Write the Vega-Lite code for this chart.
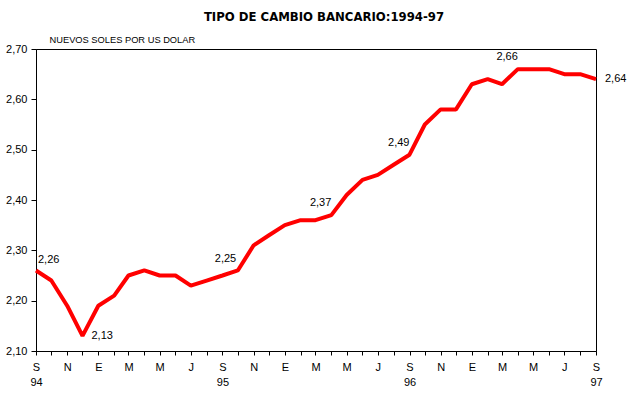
{
  "$schema": "https://vega.github.io/schema/vega-lite/v6.json",
  "width": 560,
  "height": 302,
  "autosize": {"type": "none"},
  "padding": {"left": 36, "top": 49, "right": 46, "bottom": 46},
  "background": "white",
  "title": {
    "text": "TIPO DE CAMBIO BANCARIO:1994-97",
    "font": "Liberation Sans Narrow, DejaVu Sans Condensed, Liberation Sans",
    "fontSize": 13,
    "fontWeight": "bold",
    "color": "black",
    "anchor": "middle",
    "frame": "group",
    "dx": 8,
    "offset": 11
  },
  "config": {
    "locale": {"number": {"decimal": ",", "thousands": ".", "grouping": [3], "currency": ["", ""]}},
    "view": {"stroke": "black", "strokeWidth": 1},
    "font": "Liberation Sans",
    "axis": {"grid": false, "domainColor": "black", "tickColor": "black", "labelColor": "black", "labelFont": "Liberation Sans", "labelFontSize": 11}
  },
  "data": {
    "values": [
      {"date": "1994-09-01", "tc": 2.26},
      {"date": "1994-10-01", "tc": 2.24},
      {"date": "1994-11-01", "tc": 2.19},
      {"date": "1994-12-01", "tc": 2.13},
      {"date": "1995-01-01", "tc": 2.19},
      {"date": "1995-02-01", "tc": 2.21},
      {"date": "1995-03-01", "tc": 2.25},
      {"date": "1995-04-01", "tc": 2.26},
      {"date": "1995-05-01", "tc": 2.25},
      {"date": "1995-06-01", "tc": 2.25},
      {"date": "1995-07-01", "tc": 2.23},
      {"date": "1995-08-01", "tc": 2.24},
      {"date": "1995-09-01", "tc": 2.25},
      {"date": "1995-10-01", "tc": 2.26},
      {"date": "1995-11-01", "tc": 2.31},
      {"date": "1995-12-01", "tc": 2.33},
      {"date": "1996-01-01", "tc": 2.35},
      {"date": "1996-02-01", "tc": 2.36},
      {"date": "1996-03-01", "tc": 2.36},
      {"date": "1996-04-01", "tc": 2.37},
      {"date": "1996-05-01", "tc": 2.41},
      {"date": "1996-06-01", "tc": 2.44},
      {"date": "1996-07-01", "tc": 2.45},
      {"date": "1996-08-01", "tc": 2.47},
      {"date": "1996-09-01", "tc": 2.49},
      {"date": "1996-10-01", "tc": 2.55},
      {"date": "1996-11-01", "tc": 2.58},
      {"date": "1996-12-01", "tc": 2.58},
      {"date": "1997-01-01", "tc": 2.63},
      {"date": "1997-02-01", "tc": 2.64},
      {"date": "1997-03-01", "tc": 2.63},
      {"date": "1997-04-01", "tc": 2.66},
      {"date": "1997-05-01", "tc": 2.66},
      {"date": "1997-06-01", "tc": 2.66},
      {"date": "1997-07-01", "tc": 2.65},
      {"date": "1997-08-01", "tc": 2.65},
      {"date": "1997-09-01", "tc": 2.64}
    ]
  },
  "encoding": {
    "x": {
      "field": "date",
      "type": "temporal",
      "scale": {"type": "utc", "domain": [{"year": 1994, "month": 9, "date": 1, "utc": true}, {"year": 1997, "month": 9, "date": 1, "utc": true}], "nice": false},
      "axis": {
        "title": null,
        "tickCount": {"interval": "month", "step": 1},
        "tickSize": 4,
        "labelPadding": 6,
        "labelOverlap": false,
        "labelFlush": false,
        "labelAlign": "center",
        "labelLineHeight": 15,
        "labelExpr": "utcmonth(datum.value) % 2 == 0 ? [substring('EFMAMJJASOND', utcmonth(datum.value), utcmonth(datum.value) + 1), utcmonth(datum.value) == 8 ? utcFormat(datum.value, '%y') : ''] : ''"
      }
    },
    "y": {
      "field": "tc",
      "type": "quantitative",
      "scale": {"domain": [2.1, 2.7], "nice": false, "zero": false},
      "axis": {
        "values": [2.1, 2.2, 2.3, 2.4, 2.5, 2.6, 2.7],
        "format": ".2f",
        "tickSize": 5,
        "labelPadding": 4,
        "title": "NUEVOS SOLES POR US DOLAR",
        "titleAngle": 0,
        "titleAlign": "left",
        "titleBaseline": "alphabetic",
        "titleX": 13,
        "titleY": -7,
        "titleFont": "Liberation Sans",
        "titleFontSize": 9.3,
        "titleFontWeight": "normal",
        "titleColor": "black"
      }
    }
  },
  "layer": [
    {"mark": {"type": "line", "color": "#FF0000", "strokeWidth": 4, "strokeJoin": "bevel"}},
    {
      "transform": [{"filter": "utcyear(datum.date) == 1994 && utcmonth(datum.date) == 8"}],
      "mark": {"type": "text", "align": "left", "baseline": "middle", "dx": 2, "dy": -10, "fontSize": 11, "font": "Liberation Sans", "color": "black"},
      "encoding": {"text": {"field": "tc", "type": "quantitative", "format": ".2f"}}
    },
    {
      "transform": [{"filter": "(utcyear(datum.date) == 1994 && utcmonth(datum.date) == 11) || (utcyear(datum.date) == 1997 && utcmonth(datum.date) == 8)"}],
      "mark": {"type": "text", "align": "left", "baseline": "middle", "dx": 9, "dy": 0, "fontSize": 11, "font": "Liberation Sans", "color": "black"},
      "encoding": {"text": {"field": "tc", "type": "quantitative", "format": ".2f"}}
    },
    {
      "transform": [{"filter": "utcyear(datum.date) == 1995 && utcmonth(datum.date) == 8"}],
      "mark": {"type": "text", "align": "center", "baseline": "middle", "dx": 3, "dy": -17, "fontSize": 11, "font": "Liberation Sans", "color": "black"},
      "encoding": {"text": {"field": "tc", "type": "quantitative", "format": ".2f"}}
    },
    {
      "transform": [{"filter": "(utcyear(datum.date) == 1996 && (utcmonth(datum.date) == 3 || utcmonth(datum.date) == 8)) || (utcyear(datum.date) == 1997 && utcmonth(datum.date) == 3)"}],
      "mark": {"type": "text", "align": "right", "baseline": "middle", "dx": 0, "dy": -12, "fontSize": 11, "font": "Liberation Sans", "color": "black"},
      "encoding": {"text": {"field": "tc", "type": "quantitative", "format": ".2f"}}
    }
  ]
}
